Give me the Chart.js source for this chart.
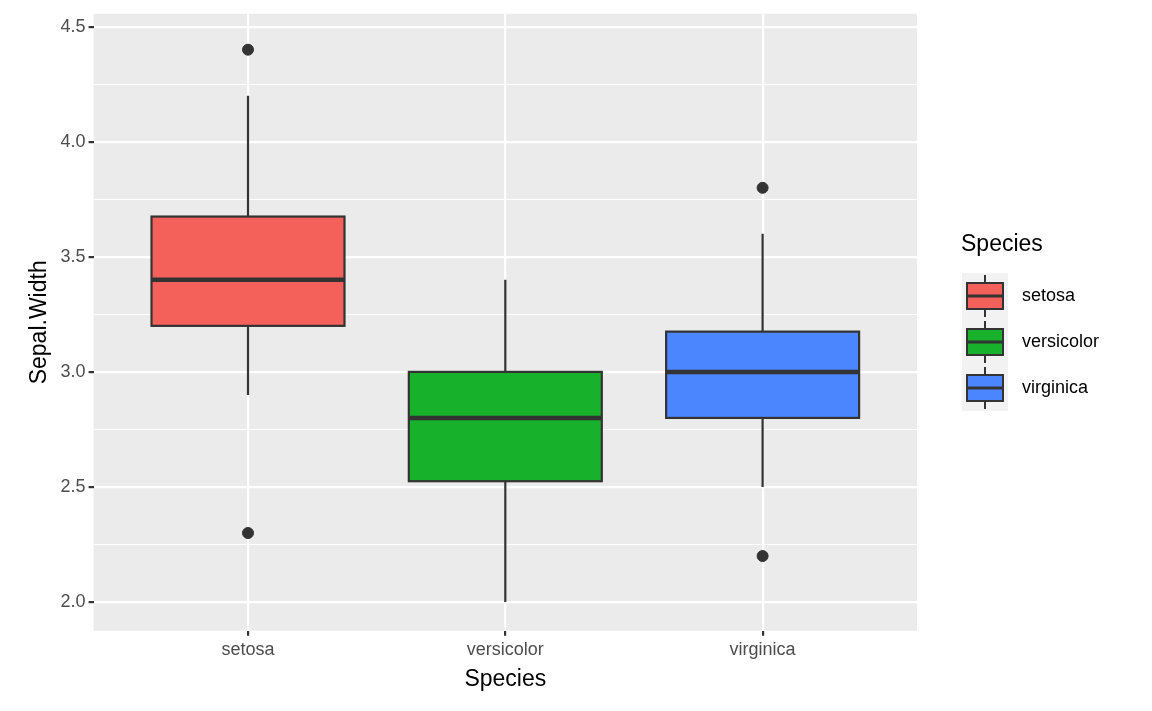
<!DOCTYPE html>
<html>
<head>
<meta charset="utf-8">
<script src="https://cdn.jsdelivr.net/npm/chart.js@4"></script>
<style>
  html, body { margin: 0; padding: 0; background: #fff; }
  #wrap { width: 1152px; height: 711px; }
</style>
</head>
<body>
<div id="wrap"><canvas id="myChart"></canvas></div>
<script>
// Data
var species = ['setosa', 'versicolor', 'virginica'];
var q1 = [3.2, 2.525, 2.8];
var median = [3.4, 2.8, 3.0];
var q3 = [3.675, 3.0, 3.175];
var whiskerLow = [2.9, 2.0, 2.5];
var whiskerHigh = [4.2, 3.4, 3.6];
var outliers = [[4.4, 2.3], [], [3.8, 2.2]];
var fillsShown = ['#f4615b', '#17b12b', '#4c86ff'];
var yTicks = [2, 2.25, 2.5, 2.75, 3, 3.25, 3.5, 3.75, 4, 4.25, 4.5];

var fontFam = '"Liberation Sans", Arial, sans-serif';
var boxWidth = 0.75;

var outlierPoints = [];
outliers.forEach(function (list, i) {
  list.forEach(function (v) { outlierPoints.push({ x: i + 1, y: v }); });
});

// Grey panel background
var panelBg = {
  id: 'panelBg',
  beforeDraw: function (chart) {
    var a = chart.chartArea, c = chart.ctx;
    c.save();
    c.fillStyle = '#ebebeb';
    c.fillRect(a.left, a.top, a.right - a.left, a.bottom - a.top);
    c.restore();
  }
};

// Boxes, medians, whiskers and the legend
var boxPlot = {
  id: 'boxPlot',
  afterDatasetsDraw: function (chart) {
    var c = chart.ctx, xs = chart.scales.x, ys = chart.scales.y;
    c.save();
    c.strokeStyle = '#333333';
    for (var i = 0; i < species.length; i++) {
      var xc = xs.getPixelForValue(i + 1);
      var xl = xs.getPixelForValue(i + 1 - boxWidth / 2);
      var xr = xs.getPixelForValue(i + 1 + boxWidth / 2);
      c.lineWidth = 2.2;
      c.beginPath();
      c.moveTo(xc, ys.getPixelForValue(whiskerHigh[i]));
      c.lineTo(xc, ys.getPixelForValue(q3[i]));
      c.moveTo(xc, ys.getPixelForValue(q1[i]));
      c.lineTo(xc, ys.getPixelForValue(whiskerLow[i]));
      c.stroke();
      var yt = ys.getPixelForValue(q3[i]), yb = ys.getPixelForValue(q1[i]);
      c.fillStyle = fillsShown[i];
      c.fillRect(xl, yt, xr - xl, yb - yt);
      c.strokeRect(xl, yt, xr - xl, yb - yt);
      c.lineWidth = 4.5;
      c.beginPath();
      var ym = ys.getPixelForValue(median[i]);
      c.moveTo(xl, ym);
      c.lineTo(xr, ym);
      c.stroke();
    }
    // legend
    c.fillStyle = '#000';
    c.font = '23px ' + fontFam;
    c.textBaseline = 'middle';
    c.fillText('Species', 961, 245);
    c.fillStyle = '#f2f2f2';
    c.fillRect(962, 273, 46, 138);
    c.font = '18px ' + fontFam;
    for (var j = 0; j < species.length; j++) {
      var top = 273 + j * 46, cx = 985;
      c.strokeStyle = '#333333';
      c.lineWidth = 2;
      c.beginPath();
      c.moveTo(cx, top + 2); c.lineTo(cx, top + 44);
      c.stroke();
      c.fillStyle = fillsShown[j];
      c.fillRect(967, top + 10, 36, 26);
      c.strokeRect(967, top + 10, 36, 26);
      c.lineWidth = 3;
      c.beginPath();
      c.moveTo(967, top + 23); c.lineTo(1003, top + 23);
      c.stroke();
      c.fillStyle = '#000';
      c.fillText(species[j], 1022, top + 23);
    }
    c.restore();
  }
};

var ctx = document.getElementById('myChart').getContext('2d');
var myChart = new Chart(ctx, {
  type: 'scatter',
  data: {
    datasets: [{
      label: 'outliers',
      data: outlierPoints,
      backgroundColor: '#333333',
      borderColor: '#333333',
      pointRadius: 5.5
    }]
  },
  options: {
    responsive: true,
    maintainAspectRatio: false,
    animation: false,
    layout: { padding: { top: 0, right: 235, left: 22, bottom: 14 } },
    scales: {
      x: {
        type: 'linear',
        min: 0.4,
        max: 3.6,
        afterBuildTicks: function (axis) {
          axis.ticks = [{ value: 1 }, { value: 2 }, { value: 3 }];
        },
        grid: { color: '#ffffff', lineWidth: 2.2, tickColor: '#333333', tickLength: 5 },
        border: { display: false },
        ticks: {
          color: '#4d4d4d',
          font: { size: 18, family: fontFam },
          padding: 3,
          callback: function (v) { return species[v - 1]; }
        },
        title: { display: true, text: 'Species', color: '#000', font: { size: 23, family: fontFam }, padding: { top: 2 } }
      },
      y: {
        min: 1.875,
        max: 4.556,
        afterBuildTicks: function (axis) {
          axis.ticks = yTicks.map(function (v) { return { value: v }; });
        },
        grid: {
          color: '#ffffff',
          lineWidth: function (c) { return c.tick && c.tick.value % 0.5 === 0 ? 2.2 : 1.1; },
          tickColor: function (c) { return c.tick && c.tick.value % 0.5 === 0 ? '#333333' : 'rgba(0,0,0,0)'; },
          tickLength: 5
        },
        border: { display: false },
        ticks: {
          color: '#4d4d4d',
          font: { size: 18, family: fontFam },
          padding: 3,
          callback: function (v) { return v % 0.5 === 0 ? v.toFixed(1) : ''; }
        },
        title: { display: true, text: 'Sepal.Width', color: '#000', font: { size: 23, family: fontFam }, padding: { bottom: 4 } }
      }
    },
    plugins: {
      legend: { display: false },
      tooltip: { enabled: false }
    }
  },
  plugins: [panelBg, boxPlot]
});
</script>
</body>
</html>
